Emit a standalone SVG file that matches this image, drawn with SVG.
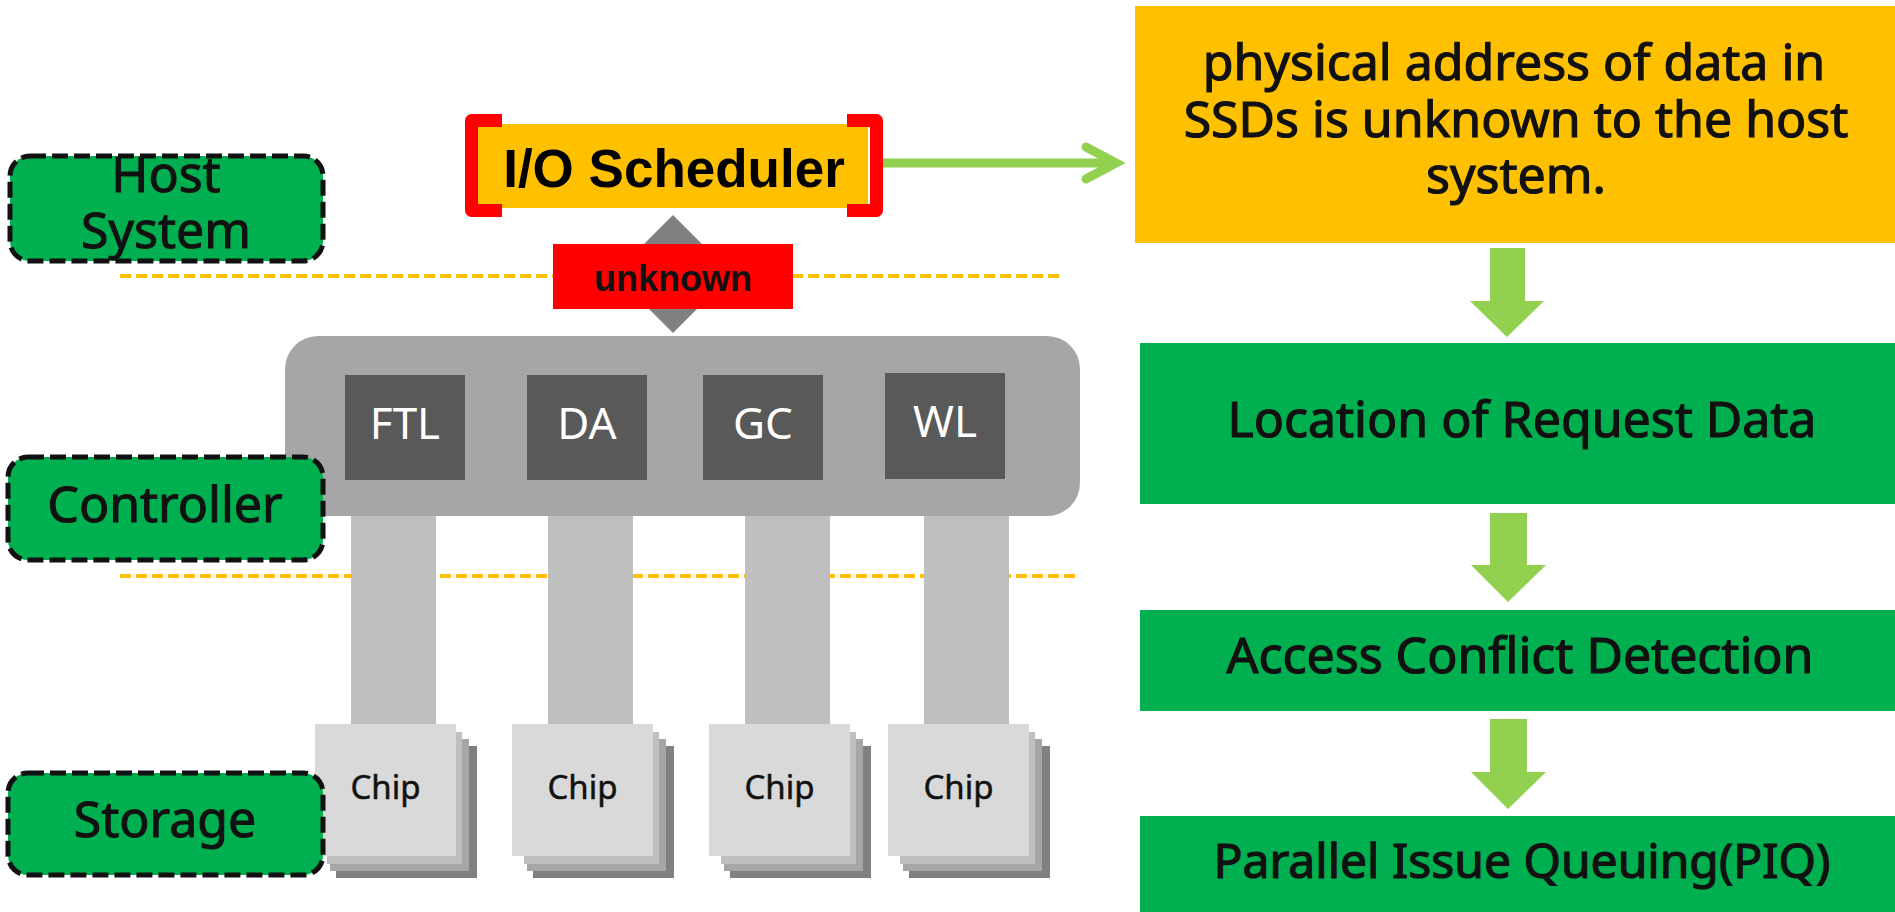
<svg xmlns="http://www.w3.org/2000/svg" width="1895" height="912" viewBox="0 0 1895 912">
<style>
.lbl{fill:#00B050;stroke:#111;stroke-width:5;stroke-dasharray:16 6}
.lt{font-family:"Noto Sans","Open Sans",sans-serif;font-size:50px;fill:#111;stroke:#111;stroke-width:1;text-anchor:middle}
.mod{fill:#595959}
.mt{font-family:"Noto Sans","Open Sans",sans-serif;font-size:44px;fill:#fff;text-anchor:middle}
.pil{fill:#BFBFBF}
.ct{font-family:"Noto Sans","Open Sans",sans-serif;font-size:33px;fill:#111;stroke:#111;stroke-width:0.5;text-anchor:middle}
.sep{stroke:#FFC000;stroke-width:4;stroke-dasharray:11 5;fill:none}
.gbox{fill:#00B050}
.rt{font-family:"Noto Sans","Open Sans",sans-serif;font-size:50px;fill:#111;stroke:#111;stroke-width:1.2;text-anchor:middle}
.darr{fill:#92D050}
.brk{fill:none;stroke:#FF0000;stroke-width:13;stroke-linejoin:round}
</style>
<defs>
<g id="chipstack">
<rect x="21" y="22" width="141" height="132" fill="#808080"/>
<rect x="15" y="15" width="139" height="132" fill="#A6A6A6"/>
<rect x="12" y="8" width="135" height="132" fill="#BFBFBF"/>
<rect x="0" y="0" width="141" height="132" fill="#D9D9D9"/>
</g>
</defs>
<rect width="1895" height="912" fill="#fff"/>

<g id="separators">
<line class="sep" x1="120" y1="276" x2="1064" y2="276"/>
<line class="sep" x1="120" y1="576" x2="1075" y2="576"/>
</g>

<g id="pillars">
<rect class="pil" x="351" y="500" width="85" height="225"/>
<rect class="pil" x="548" y="500" width="85" height="225"/>
<rect class="pil" x="745" y="500" width="85" height="225"/>
<rect class="pil" x="924" y="500" width="85" height="225"/>
</g>

<g id="controller">
<rect x="285" y="336" width="795" height="180" rx="33" fill="#A6A6A6"/>
<g id="ftl"><rect class="mod" x="345" y="375" width="120" height="105"/><text class="mt" x="405" y="439">FTL</text></g>
<g id="da"><rect class="mod" x="527" y="375" width="120" height="105"/><text class="mt" x="587" y="439">DA</text></g>
<g id="gc"><rect class="mod" x="703" y="375" width="120" height="105"/><text class="mt" x="763" y="439">GC</text></g>
<g id="wl"><rect class="mod" x="885" y="373" width="120" height="106"/><text class="mt" x="945" y="437">WL</text></g>
</g>

<g id="chip1"><use href="#chipstack" x="315" y="724"/><text class="ct" x="385.5" y="799">Chip</text></g>
<g id="chip2"><use href="#chipstack" x="512" y="724"/><text class="ct" x="582.5" y="799">Chip</text></g>
<g id="chip3"><use href="#chipstack" x="709" y="724"/><text class="ct" x="779.5" y="799">Chip</text></g>
<g id="chip4"><use href="#chipstack" x="888" y="724"/><text class="ct" x="958.5" y="799">Chip</text></g>

<g id="connectors">
<polygon points="673,215 732,274 673,333 614,274" fill="#808080"/>
<line x1="883" y1="163" x2="1114" y2="163" stroke="#92D050" stroke-width="9"/>
<polyline points="1086,147 1116,163 1086,179" fill="none" stroke="#92D050" stroke-width="9" stroke-linecap="round" stroke-linejoin="miter"/>
<polygon class="darr" points="1490,248 1525,248 1525,301 1544,301 1507,337 1470,301 1490,301"/>
<polygon class="darr" points="1490,513 1527,513 1527,565 1546,565 1508,602 1471,565 1490,565"/>
<polygon class="darr" points="1490,719 1527,719 1527,772 1546,772 1508,809 1471,772 1490,772"/>
</g>

<g id="unknown">
<rect x="553" y="244" width="240" height="65" fill="#FF0000"/>
<text x="673" y="291" font-family="'Liberation Sans',Arial,sans-serif" font-weight="bold" font-size="36" fill="#111" text-anchor="middle">unknown</text>
</g>

<g id="scheduler">
<rect x="478" y="124" width="390" height="84" fill="#FFC000"/>
<path class="brk" d="M502,120.5 H471.5 V210.5 H502"/>
<path class="brk" d="M847,120.5 H876.5 V210.5 H847"/>
<text x="674" y="187" font-family="'Liberation Sans',Arial,sans-serif" font-weight="bold" font-size="53" fill="#000" text-anchor="middle">I/O Scheduler</text>
</g>

<g id="host">
<rect class="lbl" x="10" y="156" width="313" height="105" rx="20"/>
<text class="lt" x="166" y="192">Host</text>
<text class="lt" x="166" y="248">System</text>
</g>
<g id="ctrl-label">
<rect class="lbl" x="8" y="457" width="315" height="103" rx="20"/>
<text class="lt" x="165" y="522">Controller</text>
</g>
<g id="storage">
<rect class="lbl" x="8" y="773" width="315" height="102" rx="20"/>
<text class="lt" x="165" y="837">Storage</text>
</g>

<g id="problem">
<rect x="1135" y="6" width="760" height="237" fill="#FFC000"/>
<text class="rt" x="1514" y="80">physical address of data in</text>
<text class="rt" x="1516" y="137">SSDs is unknown to the host</text>
<text class="rt" x="1516" y="193">system.</text>
</g>
<g id="location">
<rect class="gbox" x="1140" y="343" width="755" height="161"/>
<text class="rt" x="1522" y="437">Location of Request Data</text>
</g>
<g id="conflict">
<rect class="gbox" x="1140" y="610" width="755" height="101"/>
<text class="rt" x="1520" y="673">Access Conflict Detection</text>
</g>
<g id="piq">
<rect class="gbox" x="1140" y="816" width="755" height="96"/>
<text class="rt" x="1522" y="878" style="font-size:48px">Parallel Issue Queuing(PIQ)</text>
</g>
</svg>
